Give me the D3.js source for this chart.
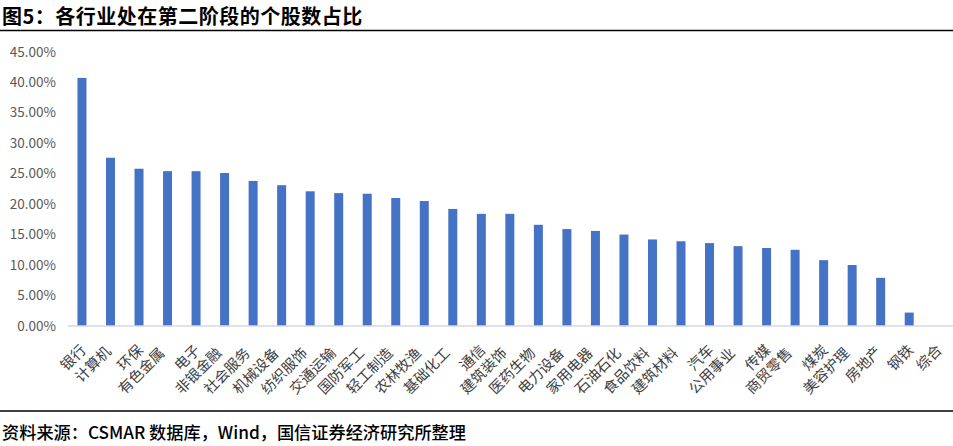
<!DOCTYPE html>
<html><head><meta charset="utf-8">
<script src="https://cdn.jsdelivr.net/npm/d3@7"></script>
<style>
body{margin:0;background:#fff;}
svg{display:block;}
</style></head>
<body><svg id="c" width="953" height="446"></svg>
<script>
const categories = ["银行","计算机","环保","有色金属","电子","非银金融","社会服务","机械设备","纺织服饰","交通运输","国防军工","轻工制造","农林牧渔","基础化工","通信","建筑装饰","医药生物","电力设备","家用电器","石油石化","食品饮料","建筑材料","汽车","公用事业","传媒","商贸零售","煤炭","美容护理","房地产","钢铁","综合"];
const values = [40.7,27.6,25.8,25.4,25.4,25.1,23.8,23.1,22.1,21.8,21.7,21.0,20.5,19.2,18.4,18.4,16.6,15.9,15.6,15.0,14.2,13.9,13.6,13.1,12.8,12.5,10.8,10.0,7.9,2.2,0];
const yTicks = [0,5,10,15,20,25,30,35,40,45];
const titleText = "图5：各行业处在第二阶段的个股数占比";
const sourceText = "资料来源：CSMAR 数据库，Wind，国信证券经济研究所整理";

const svg = d3.select("#c");
const font = "'Noto Sans CJK SC','Noto Sans',sans-serif";

const x = d3.scaleBand().domain(categories).range([67.7, 952]).paddingInner(0.685).paddingOuter(0.3425);
const y = d3.scaleLinear().domain([0,45]).range([326, 51.7]);

// title
svg.append("text").attr("x",2).attr("y",23.5).attr("font-family",font).attr("font-weight","bold")
  .attr("font-size",20).attr("letter-spacing",0.5).attr("fill","#000").text(titleText);
svg.append("line").attr("x1",0).attr("x2",953).attr("y1",30.5).attr("y2",30.5).attr("stroke","#000").attr("stroke-width",1.5);

// y axis labels
const yAxis = d3.axisLeft(y).tickValues(yTicks).tickFormat(d => d.toFixed(2)+"%").tickSize(0).tickPadding(0);
const gy = svg.append("g").attr("transform","translate(56,0)").call(yAxis);
gy.select(".domain").remove();
gy.selectAll("text").attr("font-family",font).attr("font-size",13.5).attr("fill","#595959");

// bars
svg.append("g").selectAll("rect").data(values).join("rect")
  .attr("x",(d,i)=>x(categories[i])).attr("width",x.bandwidth())
  .attr("y",d=>y(d)).attr("height",d=>y(0)-y(d)).attr("fill","#4472C4");

// x axis
const xAxis = d3.axisBottom(x).tickSize(0).tickPadding(0);
const gx = svg.append("g").attr("transform",`translate(0,${y(0)})`).call(xAxis);
gx.select(".domain").attr("stroke","#d9d9d9").attr("stroke-width",1.5).attr("d","M67.7,0H953");
gx.selectAll("text").attr("font-family",font).attr("font-size",14.5).attr("fill","#404040")
  .attr("text-anchor","end").attr("dy",0).attr("y",0)
  .attr("transform",d=>`translate(${5 - (d.length-2)*3.5},${25 + (d.length-2)*1.5}) rotate(-45)`);

// footer
svg.append("line").attr("x1",0).attr("x2",953).attr("y1",411).attr("y2",411).attr("stroke","#000").attr("stroke-width",1.5);
svg.append("text").attr("x",2).attr("y",439).attr("font-family",font).attr("font-weight",500)
  .attr("font-size",17.2).attr("fill","#000").text(sourceText);
</script></body></html>
